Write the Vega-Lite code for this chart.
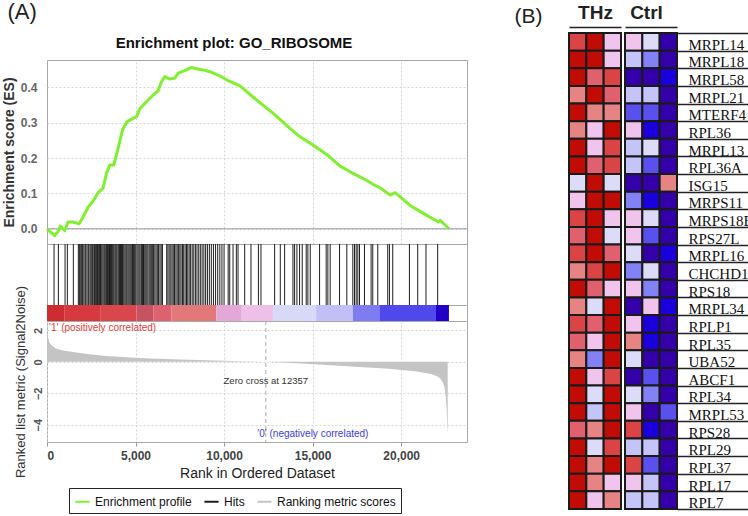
{
  "$schema": "https://vega.github.io/schema/vega-lite/v6.json",
  "background": "white",
  "padding": {"left": 1, "top": 0, "right": 0, "bottom": 0},
  "spacing": 46,
  "config": {
    "font": "Liberation Sans",
    "view": {"stroke": null}
  },
  "datasets": {
    "es": [
      {"rank": 0, "es": 0}, {"rank": 434, "es": -0.019}, {"rank": 622, "es": -0.008}, {"rank": 754, "es": 0.008},
      {"rank": 999, "es": -0.005}, {"rank": 1188, "es": 0.019}, {"rank": 1470, "es": 0.019}, {"rank": 1810, "es": 0.014},
      {"rank": 2036, "es": 0.033}, {"rank": 2319, "es": 0.061}, {"rank": 2600, "es": 0.078}, {"rank": 2884, "es": 0.102},
      {"rank": 3167, "es": 0.115}, {"rank": 3355, "es": 0.156}, {"rank": 3544, "es": 0.18}, {"rank": 3770, "es": 0.18},
      {"rank": 4015, "es": 0.227}, {"rank": 4260, "es": 0.279}, {"rank": 4524, "es": 0.303}, {"rank": 5052, "es": 0.317},
      {"rank": 5241, "es": 0.339}, {"rank": 5617, "es": 0.359}, {"rank": 5994, "es": 0.378}, {"rank": 6277, "es": 0.39},
      {"rank": 6465, "es": 0.416}, {"rank": 6654, "es": 0.43}, {"rank": 6937, "es": 0.423}, {"rank": 7220, "es": 0.426},
      {"rank": 7408, "es": 0.44}, {"rank": 7785, "es": 0.447}, {"rank": 8162, "es": 0.456}, {"rank": 8445, "es": 0.452},
      {"rank": 8822, "es": 0.449}, {"rank": 9199, "es": 0.444}, {"rank": 9764, "es": 0.432}, {"rank": 10141, "es": 0.421},
      {"rank": 10895, "es": 0.404}, {"rank": 11838, "es": 0.364}, {"rank": 12780, "es": 0.326}, {"rank": 13723, "es": 0.284},
      {"rank": 14288, "es": 0.26}, {"rank": 15042, "es": 0.236}, {"rank": 15796, "es": 0.21}, {"rank": 16550, "es": 0.177},
      {"rank": 17116, "es": 0.161}, {"rank": 17870, "es": 0.142}, {"rank": 18435, "es": 0.125}, {"rank": 18812, "es": 0.116},
      {"rank": 19378, "es": 0.095}, {"rank": 19661, "es": 0.102}, {"rank": 19944, "es": 0.09}, {"rank": 20509, "es": 0.066},
      {"rank": 20980, "es": 0.052}, {"rank": 21451, "es": 0.038}, {"rank": 22111, "es": 0.019}, {"rank": 22205, "es": 0.024},
      {"rank": 22700, "es": 0}
    ],
    "hits": [
      {"rank": 398}, {"rank": 643}, {"rank": 1020}, {"rank": 1150}, {"rank": 1488}, {"rank": 1770}, {"rank": 1830}, {"rank": 1905},
      {"rank": 1960}, {"rank": 2010}, {"rank": 2080}, {"rank": 2150}, {"rank": 2190}, {"rank": 2260}, {"rank": 2330}, {"rank": 2370},
      {"rank": 2440}, {"rank": 2500}, {"rank": 2560}, {"rank": 2610}, {"rank": 2680}, {"rank": 2730}, {"rank": 2790}, {"rank": 2850},
      {"rank": 2900}, {"rank": 2960}, {"rank": 3020}, {"rank": 3060}, {"rank": 3110}, {"rank": 3170}, {"rank": 3230}, {"rank": 3280},
      {"rank": 3330}, {"rank": 3370}, {"rank": 3420}, {"rank": 3480}, {"rank": 3530}, {"rank": 3590}, {"rank": 3640}, {"rank": 3690},
      {"rank": 3740}, {"rank": 3790}, {"rank": 3850}, {"rank": 3900}, {"rank": 3950}, {"rank": 4010}, {"rank": 4060}, {"rank": 4100},
      {"rank": 4150}, {"rank": 4210}, {"rank": 4260}, {"rank": 4300}, {"rank": 4350}, {"rank": 4410}, {"rank": 4470}, {"rank": 4520},
      {"rank": 4580}, {"rank": 4640}, {"rank": 4700}, {"rank": 4760}, {"rank": 4830}, {"rank": 4890}, {"rank": 4950}, {"rank": 5010},
      {"rank": 5080}, {"rank": 5140}, {"rank": 5200}, {"rank": 5260}, {"rank": 5330}, {"rank": 5390}, {"rank": 5450}, {"rank": 5520},
      {"rank": 5580}, {"rank": 5640}, {"rank": 5700}, {"rank": 5770}, {"rank": 5830}, {"rank": 5890}, {"rank": 5950}, {"rank": 6020},
      {"rank": 6090}, {"rank": 6160}, {"rank": 6230}, {"rank": 6300}, {"rank": 6380}, {"rank": 6450}, {"rank": 6520}, {"rank": 6760},
      {"rank": 6830}, {"rank": 6900}, {"rank": 6990}, {"rank": 7060}, {"rank": 7130}, {"rank": 7200}, {"rank": 7280}, {"rank": 7350},
      {"rank": 7420}, {"rank": 7500}, {"rank": 7570}, {"rank": 7650}, {"rank": 7720}, {"rank": 7800}, {"rank": 7880}, {"rank": 7950},
      {"rank": 8030}, {"rank": 8110}, {"rank": 8200}, {"rank": 8290}, {"rank": 8380}, {"rank": 8470}, {"rank": 8570}, {"rank": 8660},
      {"rank": 8760}, {"rank": 8860}, {"rank": 8960}, {"rank": 9060}, {"rank": 9170}, {"rank": 9280}, {"rank": 9400}, {"rank": 9520},
      {"rank": 9640}, {"rank": 9760}, {"rank": 9880}, {"rank": 10000}, {"rank": 10232}, {"rank": 10320}, {"rank": 10507}, {"rank": 10694},
      {"rank": 10789}, {"rank": 11165}, {"rank": 11520}, {"rank": 11940}, {"rank": 12085}, {"rank": 12856}, {"rank": 13175}, {"rank": 13420},
      {"rank": 13890}, {"rank": 13984}, {"rank": 14115}, {"rank": 14265}, {"rank": 14415}, {"rank": 14640}, {"rank": 14734}, {"rank": 14866},
      {"rank": 15395}, {"rank": 15767}, {"rank": 15862}, {"rank": 15993}, {"rank": 16522}, {"rank": 16934}, {"rank": 17272}, {"rank": 17366},
      {"rank": 17460}, {"rank": 17554}, {"rank": 17648}, {"rank": 17931}, {"rank": 18304}, {"rank": 18398}, {"rank": 18680}, {"rank": 19244},
      {"rank": 19339}, {"rank": 19526}, {"rank": 20468}, {"rank": 20936}, {"rank": 21404}, {"rank": 22063}
    ],
    "bar": [
      {"start": 0, "end": 1000, "lvl": "a"}, {"start": 1000, "end": 3000, "lvl": "b"}, {"start": 3000, "end": 5060, "lvl": "c"},
      {"start": 5060, "end": 6000, "lvl": "d"}, {"start": 6000, "end": 7030, "lvl": "e"}, {"start": 7030, "end": 9565, "lvl": "f"},
      {"start": 9565, "end": 11000, "lvl": "g"}, {"start": 11000, "end": 12760, "lvl": "h"}, {"start": 12760, "end": 15200, "lvl": "i"},
      {"start": 15200, "end": 17270, "lvl": "j"}, {"start": 17270, "end": 18770, "lvl": "k"}, {"start": 18770, "end": 21970, "lvl": "l"},
      {"start": 21970, "end": 22700, "lvl": "m"}
    ],
    "metric": [
      {"rank": 0, "m": 2.2}, {"rank": 20, "m": 1.85}, {"rank": 60, "m": 1.55}, {"rank": 130, "m": 1.25}, {"rank": 250, "m": 1.05},
      {"rank": 500, "m": 0.85}, {"rank": 900, "m": 0.72}, {"rank": 1450, "m": 0.62}, {"rank": 2300, "m": 0.5}, {"rank": 3300, "m": 0.38},
      {"rank": 4300, "m": 0.31}, {"rank": 5200, "m": 0.25}, {"rank": 6200, "m": 0.2}, {"rank": 7100, "m": 0.16}, {"rank": 8000, "m": 0.13},
      {"rank": 9000, "m": 0.1}, {"rank": 10000, "m": 0.07}, {"rank": 10900, "m": 0.045}, {"rank": 11700, "m": 0.02}, {"rank": 12357, "m": 0},
      {"rank": 13000, "m": -0.03}, {"rank": 13800, "m": -0.07}, {"rank": 14600, "m": -0.12}, {"rank": 15500, "m": -0.18},
      {"rank": 16500, "m": -0.25}, {"rank": 17400, "m": -0.31}, {"rank": 18400, "m": -0.37}, {"rank": 19300, "m": -0.44},
      {"rank": 20200, "m": -0.53}, {"rank": 20800, "m": -0.6}, {"rank": 21200, "m": -0.67}, {"rank": 21700, "m": -0.78},
      {"rank": 22000, "m": -0.9}, {"rank": 22200, "m": -1.05}, {"rank": 22350, "m": -1.3}, {"rank": 22450, "m": -1.6},
      {"rank": 22520, "m": -2.2}, {"rank": 22570, "m": -3.0}, {"rank": 22600, "m": -4.0}, {"rank": 22630, "m": -4.6}
    ],
    "notes": [
      {"label": "Zero cross at 12357", "rank": 12357, "m": -1.21}
    ],
    "heat": [
      {"g": "MRPL14", "s": "T1", "z": 10}, {"g": "MRPL14", "s": "T2", "z": 11}, {"g": "MRPL14", "s": "T3", "z": 7}, {"g": "MRPL14", "s": "C1", "z": 7}, {"g": "MRPL14", "s": "C2", "z": 6}, {"g": "MRPL14", "s": "C3", "z": 1},
      {"g": "MRPL18", "s": "T1", "z": 11}, {"g": "MRPL18", "s": "T2", "z": 11}, {"g": "MRPL18", "s": "T3", "z": 7}, {"g": "MRPL18", "s": "C1", "z": 5}, {"g": "MRPL18", "s": "C2", "z": 4}, {"g": "MRPL18", "s": "C3", "z": 1},
      {"g": "MRPL58", "s": "T1", "z": 11}, {"g": "MRPL58", "s": "T2", "z": 9}, {"g": "MRPL58", "s": "T3", "z": 10}, {"g": "MRPL58", "s": "C1", "z": 1}, {"g": "MRPL58", "s": "C2", "z": 1}, {"g": "MRPL58", "s": "C3", "z": 2},
      {"g": "MRPL21", "s": "T1", "z": 8}, {"g": "MRPL21", "s": "T2", "z": 11}, {"g": "MRPL21", "s": "T3", "z": 9}, {"g": "MRPL21", "s": "C1", "z": 5}, {"g": "MRPL21", "s": "C2", "z": 5}, {"g": "MRPL21", "s": "C3", "z": 1},
      {"g": "MTERF4", "s": "T1", "z": 11}, {"g": "MTERF4", "s": "T2", "z": 8}, {"g": "MTERF4", "s": "T3", "z": 8}, {"g": "MTERF4", "s": "C1", "z": 3}, {"g": "MTERF4", "s": "C2", "z": 3}, {"g": "MTERF4", "s": "C3", "z": 1},
      {"g": "RPL36", "s": "T1", "z": 8}, {"g": "RPL36", "s": "T2", "z": 7}, {"g": "RPL36", "s": "T3", "z": 11}, {"g": "RPL36", "s": "C1", "z": 7}, {"g": "RPL36", "s": "C2", "z": 2}, {"g": "RPL36", "s": "C3", "z": 1},
      {"g": "MRPL13", "s": "T1", "z": 11}, {"g": "MRPL13", "s": "T2", "z": 7}, {"g": "MRPL13", "s": "T3", "z": 10}, {"g": "MRPL13", "s": "C1", "z": 5}, {"g": "MRPL13", "s": "C2", "z": 6}, {"g": "MRPL13", "s": "C3", "z": 1},
      {"g": "RPL36A", "s": "T1", "z": 11}, {"g": "RPL36A", "s": "T2", "z": 9}, {"g": "RPL36A", "s": "T3", "z": 10}, {"g": "RPL36A", "s": "C1", "z": 5}, {"g": "RPL36A", "s": "C2", "z": 3}, {"g": "RPL36A", "s": "C3", "z": 1},
      {"g": "ISG15", "s": "T1", "z": 6}, {"g": "ISG15", "s": "T2", "z": 11}, {"g": "ISG15", "s": "T3", "z": 6}, {"g": "ISG15", "s": "C1", "z": 1}, {"g": "ISG15", "s": "C2", "z": 1}, {"g": "ISG15", "s": "C3", "z": 8},
      {"g": "MRPS11", "s": "T1", "z": 7}, {"g": "MRPS11", "s": "T2", "z": 11}, {"g": "MRPS11", "s": "T3", "z": 11}, {"g": "MRPS11", "s": "C1", "z": 4}, {"g": "MRPS11", "s": "C2", "z": 2}, {"g": "MRPS11", "s": "C3", "z": 1},
      {"g": "MRPS18B", "s": "T1", "z": 10}, {"g": "MRPS18B", "s": "T2", "z": 11}, {"g": "MRPS18B", "s": "T3", "z": 7}, {"g": "MRPS18B", "s": "C1", "z": 7}, {"g": "MRPS18B", "s": "C2", "z": 6}, {"g": "MRPS18B", "s": "C3", "z": 1},
      {"g": "RPS27L", "s": "T1", "z": 9}, {"g": "RPS27L", "s": "T2", "z": 11}, {"g": "RPS27L", "s": "T3", "z": 6}, {"g": "RPS27L", "s": "C1", "z": 7}, {"g": "RPS27L", "s": "C2", "z": 3}, {"g": "RPS27L", "s": "C3", "z": 1},
      {"g": "MRPL16", "s": "T1", "z": 10}, {"g": "MRPL16", "s": "T2", "z": 11}, {"g": "MRPL16", "s": "T3", "z": 9}, {"g": "MRPL16", "s": "C1", "z": 6}, {"g": "MRPL16", "s": "C2", "z": 1}, {"g": "MRPL16", "s": "C3", "z": 2},
      {"g": "CHCHD1", "s": "T1", "z": 8}, {"g": "CHCHD1", "s": "T2", "z": 10}, {"g": "CHCHD1", "s": "T3", "z": 11}, {"g": "CHCHD1", "s": "C1", "z": 4}, {"g": "CHCHD1", "s": "C2", "z": 6}, {"g": "CHCHD1", "s": "C3", "z": 1},
      {"g": "RPS18", "s": "T1", "z": 11}, {"g": "RPS18", "s": "T2", "z": 9}, {"g": "RPS18", "s": "T3", "z": 7}, {"g": "RPS18", "s": "C1", "z": 7}, {"g": "RPS18", "s": "C2", "z": 4}, {"g": "RPS18", "s": "C3", "z": 1},
      {"g": "MRPL34", "s": "T1", "z": 8}, {"g": "MRPL34", "s": "T2", "z": 6}, {"g": "MRPL34", "s": "T3", "z": 11}, {"g": "MRPL34", "s": "C1", "z": 1}, {"g": "MRPL34", "s": "C2", "z": 7}, {"g": "MRPL34", "s": "C3", "z": 2},
      {"g": "RPLP1", "s": "T1", "z": 10}, {"g": "RPLP1", "s": "T2", "z": 9}, {"g": "RPLP1", "s": "T3", "z": 11}, {"g": "RPLP1", "s": "C1", "z": 7}, {"g": "RPLP1", "s": "C2", "z": 2}, {"g": "RPLP1", "s": "C3", "z": 1},
      {"g": "RPL35", "s": "T1", "z": 9}, {"g": "RPL35", "s": "T2", "z": 7}, {"g": "RPL35", "s": "T3", "z": 11}, {"g": "RPL35", "s": "C1", "z": 8}, {"g": "RPL35", "s": "C2", "z": 2}, {"g": "RPL35", "s": "C3", "z": 1},
      {"g": "UBA52", "s": "T1", "z": 8}, {"g": "UBA52", "s": "T2", "z": 4}, {"g": "UBA52", "s": "T3", "z": 11}, {"g": "UBA52", "s": "C1", "z": 6}, {"g": "UBA52", "s": "C2", "z": 1}, {"g": "UBA52", "s": "C3", "z": 1},
      {"g": "ABCF1", "s": "T1", "z": 11}, {"g": "ABCF1", "s": "T2", "z": 7}, {"g": "ABCF1", "s": "T3", "z": 10}, {"g": "ABCF1", "s": "C1", "z": 1}, {"g": "ABCF1", "s": "C2", "z": 3}, {"g": "ABCF1", "s": "C3", "z": 1},
      {"g": "RPL34", "s": "T1", "z": 11}, {"g": "RPL34", "s": "T2", "z": 6}, {"g": "RPL34", "s": "T3", "z": 11}, {"g": "RPL34", "s": "C1", "z": 6}, {"g": "RPL34", "s": "C2", "z": 4}, {"g": "RPL34", "s": "C3", "z": 1},
      {"g": "MRPL53", "s": "T1", "z": 11}, {"g": "MRPL53", "s": "T2", "z": 5}, {"g": "MRPL53", "s": "T3", "z": 11}, {"g": "MRPL53", "s": "C1", "z": 7}, {"g": "MRPL53", "s": "C2", "z": 1}, {"g": "MRPL53", "s": "C3", "z": 3},
      {"g": "RPS28", "s": "T1", "z": 9}, {"g": "RPS28", "s": "T2", "z": 8}, {"g": "RPS28", "s": "T3", "z": 11}, {"g": "RPS28", "s": "C1", "z": 10}, {"g": "RPS28", "s": "C2", "z": 2}, {"g": "RPS28", "s": "C3", "z": 1},
      {"g": "RPL29", "s": "T1", "z": 11}, {"g": "RPL29", "s": "T2", "z": 6}, {"g": "RPL29", "s": "T3", "z": 10}, {"g": "RPL29", "s": "C1", "z": 5}, {"g": "RPL29", "s": "C2", "z": 5}, {"g": "RPL29", "s": "C3", "z": 1},
      {"g": "RPL37", "s": "T1", "z": 11}, {"g": "RPL37", "s": "T2", "z": 8}, {"g": "RPL37", "s": "T3", "z": 11}, {"g": "RPL37", "s": "C1", "z": 10}, {"g": "RPL37", "s": "C2", "z": 3}, {"g": "RPL37", "s": "C3", "z": 1},
      {"g": "RPL17", "s": "T1", "z": 11}, {"g": "RPL17", "s": "T2", "z": 8}, {"g": "RPL17", "s": "T3", "z": 7}, {"g": "RPL17", "s": "C1", "z": 7}, {"g": "RPL17", "s": "C2", "z": 5}, {"g": "RPL17", "s": "C3", "z": 1},
      {"g": "RPL7", "s": "T1", "z": 11}, {"g": "RPL7", "s": "T2", "z": 7}, {"g": "RPL7", "s": "T3", "z": 8}, {"g": "RPL7", "s": "C1", "z": 5}, {"g": "RPL7", "s": "C2", "z": 5}, {"g": "RPL7", "s": "C3", "z": 1}
    ]
  },
  "resolve": {"scale": {"fill": "independent", "color": "independent"}, "legend": {"fill": "independent", "color": "independent"}},
  "hconcat": [
    {
      "spacing": 0,
      "bounds": "flush",
      "vconcat": [
        {
          "width": 420, "height": 27,
          "data": {"values": []},
          "mark": {"type": "point", "opacity": 0},
          "encoding": {}
        },
        {
          "width": 420, "height": 184,
          "view": {"stroke": "#A8A8A8"},
          "resolve": {"axis": {"y": "independent"}},
          "layer": [
            {
              "data": {"values": [{}]},
              "mark": {"type": "rule", "color": "#999999", "strokeWidth": 1},
              "encoding": {"y": {"datum": 0, "type": "quantitative",
                "axis": {"orient": "right", "labels": false, "ticks": false, "domain": false, "grid": false,
                  "title": "(A)", "titleAngle": 0, "titleFontSize": 22, "titleFontWeight": "normal", "titleColor": "#222",
                  "titleX": -460, "titleY": -41.5, "titleAlign": "left", "titleBaseline": "alphabetic"}}}
            },
            {
              "data": {"name": "es"},
              "mark": {"type": "line", "strokeWidth": 3, "strokeJoin": "round"},
              "encoding": {
                "x": {"field": "rank", "type": "quantitative", "scale": {"domain": [0, 23720], "nice": false},
                  "axis": {"orient": "top", "values": [5000, 10000, 15000, 20000], "labels": false, "ticks": false, "domain": false,
                    "grid": true, "gridDash": [2, 2], "gridColor": "#d6d6d6",
                    "title": "Enrichment plot: GO_RIBOSOME", "titleFontSize": 15, "titleFontWeight": "bold", "titleColor": "#111",
                    "titleX": 186.5, "titleY": -12.5, "titleAlign": "center", "titleBaseline": "alphabetic"}},
                "y": {"field": "es", "type": "quantitative", "scale": {"domain": [-0.043, 0.477], "nice": false, "zero": false},
                  "axis": {"orient": "left", "values": [0, 0.1, 0.2, 0.3, 0.4], "format": ".1f", "labelFontSize": 12, "labelFontWeight": "bold", "labelColor": "#666",
                    "ticks": false, "labelPadding": 10, "domain": false, "grid": true, "gridDash": [2, 2], "gridColor": "#d6d6d6",
                    "title": "Enrichment score (ES)", "titleFontSize": 14, "titleFontWeight": "bold", "titleColor": "#333", "titlePadding": 4}},
                "color": {"datum": "Enrichment profile", "type": "nominal",
                  "scale": {"domain": ["Enrichment profile", "Hits", "Ranking metric scores"], "range": ["#80F030", "#1e1e1e", "#c4c4c4"]},
                  "legend": {"orient": "none", "legendX": 22, "legendY": 455, "direction": "horizontal", "title": null,
                    "symbolType": "stroke", "symbolStrokeWidth": 2, "symbolSize": 200,
                    "labelFontSize": 12, "labelColor": "#111", "labelFont": "Liberation Sans",
                    "strokeColor": "#222", "padding": 5, "columnPadding": 8, "labelOffset": 4}}
              }
            }
          ]
        },
        {
          "width": 420, "height": 61,
          "view": {"stroke": "#A8A8A8"},
          "data": {"name": "hits"},
          "mark": {"type": "rule", "strokeWidth": 1},
          "encoding": {
            "x": {"field": "rank", "type": "quantitative", "scale": {"domain": [0, 23720], "nice": false}, "axis": null},
            "color": {"datum": "Hits", "type": "nominal"}
          }
        },
        {
          "width": 420, "height": 16,
          "view": {"stroke": "#A8A8A8"},
          "data": {"name": "bar"},
          "mark": {"type": "rect"},
          "encoding": {
            "x": {"field": "start", "type": "quantitative", "scale": {"domain": [0, 23720], "nice": false}, "axis": null},
            "x2": {"field": "end"},
            "fill": {"field": "lvl", "type": "nominal", "legend": null,
              "scale": {"domain": ["a","b","c","d","e","f","g","h","i","j","k","l","m"],
                "range": ["#CD2C30","#D63A40","#D9464B","#C65262","#DC6270","#E27878","#E4A8D8","#EEC0E8","#D8D8F8","#C0C0F6","#7E7CF0","#5048EA","#2200C8"]}}
          }
        },
        {
          "width": 420, "height": 121,
          "view": {"stroke": "#A8A8A8"},
          "layer": [
            {
              "data": {"name": "metric"},
              "mark": {"type": "area"},
              "encoding": {
                "x": {"field": "rank", "type": "quantitative", "scale": {"domain": [0, 23720], "nice": false},
                  "axis": {"values": [0, 5000, 10000, 15000, 20000], "format": ",d", "labelFontSize": 12, "labelFontWeight": "bold", "labelColor": "#444",
                    "tickSize": 4, "tickColor": "#999", "labelPadding": 4, "domain": false, "grid": true, "gridDash": [2, 2], "gridColor": "#d6d6d6",
                    "title": "Rank in Ordered Dataset", "titleFontSize": 14, "titleFontWeight": "normal", "titleColor": "#222", "titlePadding": 5}},
                "y": {"field": "m", "type": "quantitative", "scale": {"domain": [-5.1, 2.6], "nice": false, "zero": false},
                  "axis": {"values": [2, 0, -2, -4], "labelAngle": 270, "labelFontSize": 11, "labelFontWeight": "bold", "labelColor": "#555",
                    "ticks": false, "labelPadding": 4, "domain": false, "grid": true, "gridDash": [2, 2], "gridColor": "#d6d6d6",
                    "title": "Ranked list metric (Signal2Noise)", "titleFontSize": 13, "titleFontWeight": "normal", "titleColor": "#333", "titlePadding": 5}},
                "y2": {"datum": 0},
                "color": {"datum": "Ranking metric scores", "type": "nominal"}
              }
            },
            {
              "data": {"values": [{}]},
              "mark": {"type": "rule", "color": "#aaaaaa", "strokeDash": [4, 3], "strokeWidth": 1},
              "encoding": {"x": {"datum": 12357, "type": "quantitative"}}
            },
            {
              "data": {"name": "notes"},
              "mark": {"type": "text", "fontSize": 9.5, "color": "#333"},
              "encoding": {
                "x": {"field": "rank", "type": "quantitative"},
                "y": {"field": "m", "type": "quantitative"},
                "text": {"field": "label"}
              }
            },
            {
              "data": {"values": [{"label": "'1' (positively correlated)", "rank": 0, "m": 2.17}]},
              "mark": {"type": "text", "fontSize": 10, "color": "#E23A3A", "align": "left", "dx": 2},
              "encoding": {
                "x": {"field": "rank", "type": "quantitative"},
                "y": {"field": "m", "type": "quantitative"},
                "text": {"field": "label"}
              }
            },
            {
              "data": {"values": [{"label": "'0' (negatively correlated)", "rank": 11880, "m": -4.6}]},
              "mark": {"type": "text", "fontSize": 10, "color": "#3A3AF0", "align": "left"},
              "encoding": {
                "x": {"field": "rank", "type": "quantitative"},
                "y": {"field": "m", "type": "quantitative"},
                "text": {"field": "label"}
              }
            }
          ]
        }
      ]
    },
    {
      "spacing": 2,
      "resolve": {"scale": {"fill": "shared"}},
      "hconcat": [
        {
          "width": 52, "height": 476,
          "data": {"name": "heat"},
          "transform": [{"filter": {"field": "s", "oneOf": ["T1", "T2", "T3"]}}],
          "mark": {"type": "rect", "stroke": "#1a1a1a", "strokeWidth": 2},
          "encoding": {
            "x": {"field": "s", "type": "nominal", "sort": ["T1", "T2", "T3"], "scale": {"paddingInner": 0, "paddingOuter": 0},
              "axis": {"orient": "top", "labels": false, "ticks": false, "domain": true, "domainColor": "#222", "domainWidth": 1.5, "offset": 6, "grid": false,
                "title": "THz", "titleFontSize": 19, "titleFontWeight": "bold", "titleColor": "#222",
                "titleX": 26, "titleY": -8.7, "titleAlign": "center", "titleBaseline": "alphabetic"}},
            "y": {"field": "g", "type": "nominal", "sort": null, "scale": {"paddingInner": 0, "paddingOuter": 0},
              "axis": {"orient": "left", "labels": false, "ticks": false, "domain": false, "grid": false,
                "title": "(B)", "titleAngle": 0, "titleFontSize": 21, "titleFontWeight": "normal", "titleColor": "#222",
                "titleX": -27, "titleY": -17, "titleAlign": "right", "titleBaseline": "middle"}},
            "fill": {"field": "z", "type": "ordinal", "legend": null,
              "scale": {"domain": [1,2,3,4,5,6,7,8,9,10,11],
                "range": ["#3300AA","#1A00DC","#5A50EE","#8282F6","#C4C4F8","#DCDCF8","#F0C4EC","#E68484","#E0606E","#DA4444","#C00C04"]}}
          }
        },
        {
          "width": 52, "height": 476,
          "data": {"name": "heat"},
          "transform": [{"filter": {"field": "s", "oneOf": ["C1", "C2", "C3"]}}],
          "mark": {"type": "rect", "stroke": "#1a1a1a", "strokeWidth": 2},
          "encoding": {
            "x": {"field": "s", "type": "nominal", "sort": ["C1", "C2", "C3"], "scale": {"paddingInner": 0, "paddingOuter": 0},
              "axis": {"orient": "top", "labels": false, "ticks": false, "domain": true, "domainColor": "#222", "domainWidth": 1.5, "offset": 6, "grid": false,
                "title": "Ctrl", "titleFontSize": 19, "titleFontWeight": "bold", "titleColor": "#222",
                "titleX": 21, "titleY": -8.7, "titleAlign": "center", "titleBaseline": "alphabetic"}},
            "y": {"field": "g", "type": "nominal", "sort": null, "scale": {"paddingInner": 0, "paddingOuter": 0},
              "axis": {"orient": "right", "labels": true, "ticks": true, "tickBand": "extent", "tickSize": 74, "tickColor": "#222", "tickWidth": 1.3,
                "domain": false, "grid": false, "labelOverlap": false, "labelBound": false,
                "labelFont": "Liberation Serif", "labelFontSize": 15, "labelColor": "#111", "labelPadding": -63, "labelOffset": 7.5,
                "labelBaseline": "alphabetic", "labelAlign": "left", "title": null}},
            "fill": {"field": "z", "type": "ordinal", "legend": null}
          }
        }
      ]
    }
  ]
}
